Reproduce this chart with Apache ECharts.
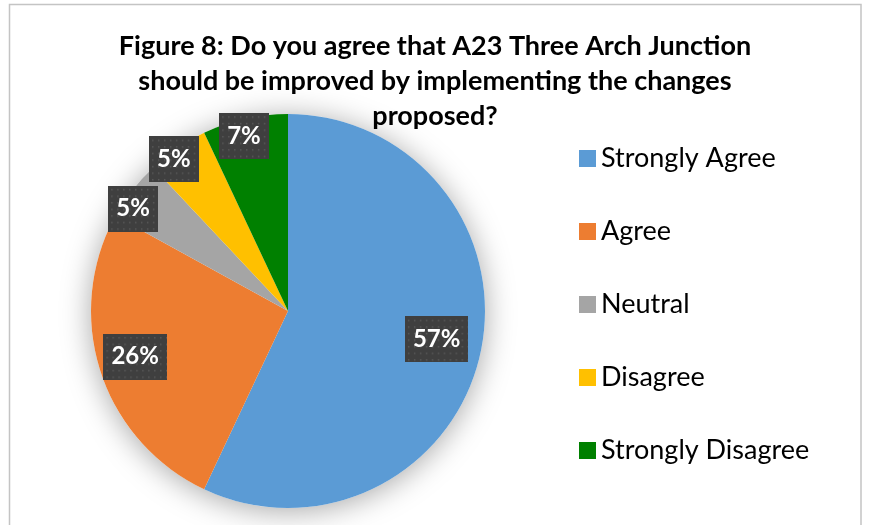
<!DOCTYPE html>
<html>
<head>
<meta charset="utf-8">
<script src="https://cdn.jsdelivr.net/npm/echarts@6/dist/echarts.min.js"></script>
<style>
  html, body { margin: 0; padding: 0; background: #fff; }
  #chart { width: 870px; height: 525px; }
</style>
</head>
<body>
<div id="chart"></div>
<script>
// Survey responses, share of respondents (%)
const categories = ['Strongly Agree', 'Agree', 'Neutral', 'Disagree', 'Strongly Disagree'];
const shares = [57, 26, 5, 5, 7];
const colors = ['#5B9BD5', '#ED7D31', '#A5A5A5', '#FFC000', '#008000'];
const titleText = 'Figure 8: Do you agree that A23 Three Arch Junction\nshould be improved by implementing the changes\nproposed?';

const FONT = 'Lato, "Open Sans", sans-serif';
const CENTER = [288, 311];
const R = 197;

// Dark label tile with a faint dotted texture
function dotTile(w, h) {
  const c = document.createElement('canvas');
  c.width = w; c.height = h;
  const g = c.getContext('2d');
  g.fillStyle = '#3f3f3f';
  g.fillRect(0, 0, w, h);
  g.fillStyle = '#585858';
  for (let y = 3; y < h; y += 6) {
    for (let x = 3; x < w; x += 6) {
      g.fillRect(x, y, 1.5, 1.5);
    }
  }
  return c;
}
const tileWide = dotTile(64, 42);
const tileNarrow = dotTile(50, 42);

// small nudges so the boxes sit clear of each other
const labelNudge = [[-5, -6], [-3, -3], [-10, 10], [-11, 0], [-4, 4]];

const labelBase = {
  show: true,
  position: 'inside',
  formatter: p => p.value + '%',
  color: '#fff',
  fontFamily: FONT,
  fontWeight: 'bold',
  fontSize: 24,
  lineHeight: 29,
  padding: [9, 8, 8, 8],
  shadowColor: 'rgba(0,0,0,0.45)',
  shadowBlur: 5,
  shadowOffsetX: 2,
  shadowOffsetY: 2
};

// Label-carrying ring: big slices get labels deeper inside, small ones near the rim
function labelRing(inner, showBig) {
  return {
    type: 'pie',
    center: CENTER,
    radius: [inner, R],
    startAngle: 90,
    clockwise: true,
    silent: true,
    z: 5,
    itemStyle: { color: 'rgba(0,0,0,0)' },
    labelLine: { show: false },
    labelLayout: p => ({
      hideOverlap: false,
      dx: labelNudge[p.dataIndex][0],
      dy: labelNudge[p.dataIndex][1]
    }),
    data: categories.map((name, i) => {
      const big = shares[i] >= 20;
      return {
        name: name,
        value: shares[i],
        label: Object.assign({}, labelBase, {
          show: big === showBig,
          backgroundColor: { image: String(shares[i]).length > 1 ? tileWide : tileNarrow }
        })
      };
    })
  };
}

const chart = echarts.init(document.getElementById('chart'), null, { renderer: 'canvas' });
chart.setOption({
  animation: false,
  backgroundColor: '#ffffff',
  color: colors,
  title: {
    text: titleText,
    left: 'center',
    top: 24,
    textStyle: {
      fontFamily: FONT,
      fontWeight: 'bold',
      fontSize: 27,
      lineHeight: 35,
      color: '#000'
    }
  },
  legend: {
    orient: 'vertical',
    left: 579,
    top: 145,
    padding: 0,
    itemWidth: 17,
    itemHeight: 17,
    itemGap: 46,
    icon: 'rect',
    selectedMode: false,
    data: categories,
    textStyle: { fontFamily: FONT, fontSize: 27, lineHeight: 26, color: '#000' }
  },
  graphic: [{
    type: 'rect',
    shape: { x: 9.5, y: 4.5, width: 851.5, height: 560 },
    style: { fill: 'none', stroke: '#c4c4c4', lineWidth: 1.5 },
    silent: true
  }],
  series: [
    {
      // soft shadow under the whole pie
      type: 'pie',
      center: CENTER,
      radius: R,
      silent: true,
      z: 1,
      label: { show: false },
      labelLine: { show: false },
      itemStyle: { color: '#fff', shadowBlur: 30, shadowColor: 'rgba(0,0,0,0.35)', shadowOffsetY: 3 },
      data: [{ value: 1, name: '' }],
      legendHoverLink: false
    },
    {
      type: 'pie',
      center: CENTER,
      radius: R,
      startAngle: 90,
      clockwise: true,
      z: 2,
      label: { show: false },
      labelLine: { show: false },
      data: categories.map((name, i) => ({ name: name, value: shares[i] }))
    },
    labelRing(112, true),
    labelRing(164, false)
  ]
});
</script>
</body>
</html>
